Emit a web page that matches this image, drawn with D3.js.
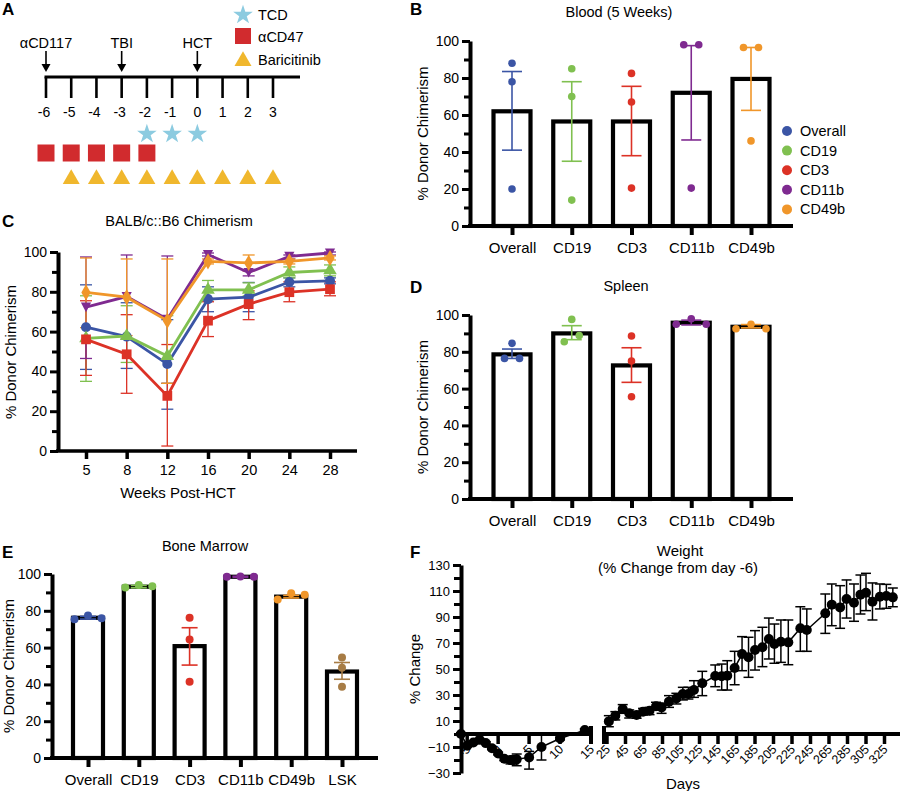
<!DOCTYPE html>
<html><head><meta charset="utf-8">
<script src="https://cdn.jsdelivr.net/npm/d3@7"></script>
<style>
body{margin:0;background:#fff}
svg{display:block}
text{font-family:"Liberation Sans",Arial,Helvetica,sans-serif;fill:#000}
</style>
</head><body>
<svg id="c" width="900" height="791"></svg>
<script>
// ---------------- DATA ----------------
// Panel A (timeline)
const timelineDays = [-6,-5,-4,-3,-2,-1,0,1,2,3];
const timelineEvents = ["αCD117","TBI","HCT"];
const timelineEventDays = [-6,-3,0];
const tcdDays = [-2,-1,0];
const acd47Days = [-6,-5,-4,-3,-2];
const baricitinibDays = [-5,-4,-3,-2,-1,0,1,2,3];
const timelineLegend = ["TCD","αCD47","Baricitinib"];

// shared categories
const populations = ["Overall","CD19","CD3","CD11b","CD49b"];
const popColors = ["#3b55a5","#80c050","#dc3226","#7f2a90","#f0962a"];

// Panel B (Blood, 5 weeks)
const bloodMean = [62, 56.5, 56.5, 72, 79.5];
const bloodLow  = [41, 35, 38, 46.5, 62.5];
const bloodHigh = [83.5, 78, 75.5, 97.5, 96.5];
const bloodPoints = [[88,78,20],[85,70,14],[82.5,67,20.5],[98,98,20.5],[96.5,96.5,46]];

// Panel D (Spleen)
const spleenMean = [78.6, 90, 72.6, 95.8, 93.6];
const spleenLow  = [76.4, 86.6, 63.4, 94.6, 93];
const spleenHigh = [81.5, 94.2, 82.2, 97.2, 94.8];
const spleenPoints = [[84.6,76.4,76.4],[85.5,97.6,88.8],[88.6,75,55.6],[95,98,95],[92.5,95,92.5]];

// Panel E (Bone marrow)
const marrowCats = ["Overall","CD19","CD3","CD11b","CD49b","LSK"];
const marrowColors = ["#3b55a5","#80c050","#dc3226","#7f2a90","#f0962a","#a77c45"];
const marrowMean = [76.2, 93.1, 60.8, 98.5, 87.7, 47];
const marrowLow  = [75.5, 92.5, 50.5, 98.2, 87, 42.8];
const marrowHigh = [77, 93.8, 70.8, 98.8, 88.4, 51.9];
const marrowPoints = [[75.4,77.5,75.9],[92.6,94,93.3],[76.2,64.4,41.4],[98.5,98.6,98.5],[86.2,89.5,88.7],[54.6,49,38.7]];

// Panel C (BALB/c::B6 chimerism over time)
const weeks = ["5","8","12","16","20","24","28"];
const overallMean = [62.2,57.5,43.7,76.3,77.3,84.9,85.5];
const overallLow  = [41,41.5,21,70,70,82.5,84];
const overallHigh = [83.5,74.5,66,82.5,84.7,87,87];
const cd19Mean = [56.6,57.8,47.7,81,81,89.7,90.8];
const cd19Low  = [35,44.5,34,76,78,87,88];
const cd19High = [78,73,68,85.7,84.5,92.5,93.5];
const cd3Mean = [56.1,48.6,27.7,65.5,73.8,79.8,81.3];
const cd3Low  = [38,29,2.5,57.5,66,75,78];
const cd3High = [75.5,68.5,53.5,75,80.5,85,85];
const cd11bMean = [72.3,77.6,66.2,98.7,89.7,97.8,99.5];
const cd11bLow  = [46.5,56.5,34,98,88,96.5,98.5];
const cd11bHigh = [97.5,98.5,98,99.5,90.5,98.5,100];
const cd49bMean = [79.7,77.3,65.5,95.3,94.5,95.3,97];
const cd49bLow  = [62,58,34,94,90.5,94,96];
const cd49bHigh = [97,96.5,96.5,96.5,98.5,96.5,98];

// Panel F (Weight, % change from day -6)
const earlyDays  = [-6,-5,-4,-3,-2,-1,0,1,2,2.5,3,5,7,10,14];
const earlyMean  = [0,-9,-6.5,-4.5,-7,-11,-15,-19,-20,-20,-19.5,-18,-10,-3.5,3];
const earlyLow   = [-1,-10,-7.5,-5.5,-8,-12,-16,-20.5,-23,-23,-24.4,-27,-20,-4.5,2];
const earlyHigh  = [1,-8,-5.5,-3.5,-6,-10,-14,-17.5,-17.5,-17,-15.4,-13.4,0,-2.5,4];
const lateDays = [27,34,42,49,57,64,71,78,84,92,100,107,113,119,128,142,149,155,163,171,178,185,193,200,206,213,221,234,241,261,268,277,284,292,299,305,312,320,327,334];
const lateMean = [9.7,14.1,19.2,15.9,14.6,17.2,17.9,21.3,20.5,24.9,27.4,30.8,30.8,33.8,39,44.6,44.4,44.9,50.8,61.5,59,64.6,66.7,73.1,69.2,71,70.5,81.3,80,92.8,99.5,97.4,103.8,101,107.2,108.7,101.8,105.6,106.2,105.1];
const lateLow  = [5.6,10.8,15.9,12.3,12.1,14.6,14.9,18.5,15.9,20.5,23.1,26.2,26.9,28.2,29.5,36.4,33.8,33.8,37.9,48.7,43.6,49.2,51.8,57.7,54.4,55.1,53.3,63.6,63.6,77.4,83.3,81.3,89.2,86.7,92.3,94.9,87.7,96.2,96.7,97.9];
const lateHigh = [14.1,17.2,22.6,18.5,16.7,19.7,20.5,24.4,23.6,29.5,31.3,35.9,35.9,41,48.2,53.1,53.8,56.4,63.6,74.9,74.4,79.5,82.1,89.2,84.6,87.7,87.7,97.9,96.2,107.7,115.4,114.1,118.5,115.4,122.3,123.6,116.2,115.4,115.1,112.3];
const earlyTicks = [-5,0,5,10,15];
const lateTicks = [25,45,65,85,105,125,145,165,185,205,225,245,265,285,305,325];
const weightMajor = [-30,-10,10,30,50,70,90,110,130];
const weightMinor = [-20,0,20,40,60,80,100,120];
const chimMajor = [0,20,40,60,80,100];
const chimMinor = [10,30,50,70,90];

// ---------------- DRAWING ----------------
const FONT = '"Liberation Sans", Arial, Helvetica, sans-serif';
const svg = d3.select("#c");

function txt(x, y, s, size, opts={}) {
  const t = svg.append("text").attr("x", x).attr("y", y).text(s)
    .attr("font-size", size).attr("font-family", FONT)
    .attr("text-anchor", opts.anchor || "middle");
  if (opts.bold) t.attr("font-weight", "bold");
  if (opts.rotate) t.attr("transform", `rotate(${opts.rotate},${x},${y})`);
  return t;
}

function yAxis(g, y, x, majors, minors, fs, majLen=8, minLen=6) {
  const a = g.append("g").attr("transform", `translate(${x},0)`)
    .call(d3.axisLeft(y).tickValues(majors).tickSize(majLen).tickSizeOuter(0).tickPadding(3));
  a.select(".domain").attr("stroke", "#000").attr("stroke-width", 4);
  a.selectAll(".tick line").attr("stroke", "#000").attr("stroke-width", 3);
  a.selectAll(".tick text").attr("font-size", fs).attr("font-family", FONT).attr("fill", "#000");
  const m = g.append("g").attr("transform", `translate(${x},0)`)
    .call(d3.axisLeft(y).tickValues(minors).tickSize(minLen).tickFormat(""));
  m.select(".domain").remove();
  m.selectAll(".tick line").attr("stroke", "#000").attr("stroke-width", 3);
}

function dotOffsets(vals, y, step) {
  // group points that would overlap, spread them horizontally
  const idx = vals.map((v, i) => i).sort((a, b) => y(vals[a]) - y(vals[b]));
  const groups = [];
  idx.forEach(i => {
    const last = groups[groups.length - 1];
    if (last && Math.abs(y(vals[i]) - y(vals[last[last.length - 1]])) < 8) last.push(i);
    else groups.push([i]);
  });
  const off = vals.map(() => 0);
  groups.forEach(gr => {
    gr.sort((a, b) => a - b);
    const spread = Math.abs(y(vals[gr[0]]) - y(vals[gr[gr.length - 1]]));
    const st = (gr.length > 2 && spread > 5) ? step / 2 : step;
    gr.forEach((i, k) => off[i] = (k - (gr.length - 1) / 2) * st);
  });
  return off;
}

function barPanel(o) {
  const g = svg.append("g");
  const y = d3.scaleLinear().domain([0, 100]).range([o.y0, o.y100]);
  const x = d3.scalePoint().domain(o.cats).range([o.xFirst, o.xLast]);
  // bars
  g.selectAll("rect.bar").data(o.cats).join("rect")
    .attr("x", c => x(c) - o.bw / 2).attr("width", o.bw)
    .attr("y", (c, i) => y(o.mean[i])).attr("height", (c, i) => o.y0 - y(o.mean[i]))
    .attr("fill", "#fff").attr("stroke", "#000").attr("stroke-width", 4.2);
  // axes
  yAxis(g, y, o.axisX, chimMajor, chimMinor, 14);
  g.append("line").attr("x1", o.axisX - 2).attr("x2", o.axisEnd).attr("y1", o.y0).attr("y2", o.y0)
    .attr("stroke", "#000").attr("stroke-width", 4);
  const xa = g.append("g").attr("transform", `translate(0,${o.y0})`)
    .call(d3.axisBottom(x).tickSize(9).tickPadding(7));
  xa.select(".domain").remove();
  xa.selectAll(".tick line").attr("stroke", "#000").attr("stroke-width", 4);
  xa.selectAll(".tick text").attr("font-size", 15).attr("font-family", FONT).attr("fill", "#000");
  // error bars
  o.cats.forEach((c, i) => {
    const col = o.colors[i], cx = x(c);
    const eg = g.append("g").attr("stroke", col).attr("stroke-width", 1.6);
    eg.append("line").attr("x1", cx).attr("x2", cx).attr("y1", y(o.low[i])).attr("y2", y(o.high[i]));
    [o.low[i], o.high[i]].forEach(v => eg.append("line")
      .attr("x1", cx - o.cap / 2).attr("x2", cx + o.cap / 2).attr("y1", y(v)).attr("y2", y(v)));
    const off = dotOffsets(o.points[i], y, o.step);
    g.selectAll(null).data(o.points[i]).join("circle")
      .attr("cx", (v, k) => cx + off[k]).attr("cy", v => y(v)).attr("r", o.r)
      .attr("fill", col);
  });
  // labels
  txt(o.titleX, o.titleY, o.title, 14.5);
  const yl = (o.y0 + o.y100) / 2;
  txt(o.ylabX, yl, "% Donor Chimerism", 15, { rotate: -90 });
}

// ---- Panel A ----
(function () {
  const x = d3.scaleLinear().domain([-6, 3]).range([46, 273]);
  const axisY = 77;
  svg.append("line").attr("x1", x(-6) - 1.5).attr("x2", 300).attr("y1", axisY).attr("y2", axisY)
    .attr("stroke", "#000").attr("stroke-width", 3);
  timelineDays.forEach(d => {
    svg.append("line").attr("x1", x(d)).attr("x2", x(d)).attr("y1", axisY).attr("y2", 98)
      .attr("stroke", "#000").attr("stroke-width", 2.6);
    txt(x(d) - (d < 0 ? 2 : 0), 117, String(d), 14);
  });
  timelineEvents.forEach((e, i) => {
    const xx = x(timelineEventDays[i]);
    txt(xx, 48, e, 14.5);
    svg.append("line").attr("x1", xx).attr("x2", xx).attr("y1", 51).attr("y2", 66)
      .attr("stroke", "#000").attr("stroke-width", 1.6);
    svg.append("path").attr("d", `M${xx - 4.5},${64} L${xx + 4.5},${64} L${xx},${72} Z`).attr("fill", "#000");
  });
  const star = d3.symbol().type(d3.symbolStar).size(120);
  const tri = d3.symbol().type(d3.symbolTriangle).size(125);
  tcdDays.forEach(d => svg.append("path").attr("d", star()).attr("transform", `translate(${x(d)},134)`).attr("fill", "#8ccbe0"));
  acd47Days.forEach(d => svg.append("rect").attr("x", x(d) - 8.5).attr("y", 144.5).attr("width", 17).attr("height", 17).attr("fill", "#d12b2e"));
  baricitinibDays.forEach(d => svg.append("path").attr("d", tri()).attr("transform", `translate(${x(d)},179)`).attr("fill", "#f0b72d"));
  // legend
  svg.append("path").attr("d", star()).attr("transform", "translate(243,15)").attr("fill", "#8ccbe0");
  svg.append("rect").attr("x", 235).attr("y", 28).attr("width", 16).attr("height", 16).attr("fill", "#d12b2e");
  svg.append("path").attr("d", tri()).attr("transform", "translate(243,61)").attr("fill", "#f0b72d");
  txt(258, 20, timelineLegend[0], 14.5, { anchor: "start" });
  txt(258, 42, timelineLegend[1], 14.5, { anchor: "start" });
  txt(258, 65, timelineLegend[2], 14.5, { anchor: "start" });
  txt(2, 15, "A", 17, { anchor: "start", bold: true });
})();

// ---- Panel B ----
barPanel({ cats: populations, colors: popColors, mean: bloodMean, low: bloodLow, high: bloodHigh, points: bloodPoints,
  y0: 226, y100: 41, axisX: 470, axisEnd: 793, xFirst: 512, xLast: 751, bw: 37, cap: 20, r: 3.8, step: 15,
  title: "Blood (5 Weeks)", titleX: 619, titleY: 17, ylabX: 428 });
txt(410, 15, "B", 17, { anchor: "start", bold: true });
populations.forEach((p, i) => {
  svg.append("circle").attr("cx", 787).attr("cy", 131 + i * 19.6).attr("r", 5).attr("fill", popColors[i]);
  txt(800, 136 + i * 19.6, p, 14.5, { anchor: "start" });
});

// ---- Panel D ----
barPanel({ cats: populations, colors: popColors, mean: spleenMean, low: spleenLow, high: spleenHigh, points: spleenPoints,
  y0: 499, y100: 315, axisX: 470, axisEnd: 793, xFirst: 512, xLast: 751, bw: 37, cap: 20, r: 3.8, step: 15,
  title: "Spleen", titleX: 626, titleY: 291, ylabX: 428 });
txt(410, 293, "D", 17, { anchor: "start", bold: true });

// ---- Panel E ----
barPanel({ cats: marrowCats, colors: marrowColors, mean: marrowMean, low: marrowLow, high: marrowHigh, points: marrowPoints,
  y0: 758, y100: 574, axisX: 52, axisEnd: 378, xFirst: 88, xLast: 342, bw: 30, cap: 16, r: 4, step: 13.5,
  title: "Bone Marrow", titleX: 205, titleY: 551, ylabX: 14 });
txt(2, 558, "E", 17, { anchor: "start", bold: true });

// ---- Panel C ----
(function () {
  const g = svg.append("g");
  const y = d3.scaleLinear().domain([0, 100]).range([451, 252]);
  const x = d3.scalePoint().domain(weeks).range([86, 330]);
  yAxis(g, y, 58, chimMajor, chimMinor, 14);
  g.append("line").attr("x1", 56).attr("x2", 357).attr("y1", 451).attr("y2", 451).attr("stroke", "#000").attr("stroke-width", 3.5);
  const xa = g.append("g").attr("transform", "translate(0,451)").call(d3.axisBottom(x).tickSize(8).tickPadding(6));
  xa.select(".domain").remove();
  xa.selectAll(".tick line").attr("stroke", "#000").attr("stroke-width", 3.5);
  xa.selectAll(".tick text").attr("font-size", 14.5).attr("font-family", FONT).attr("fill", "#000");
  const triDown = { draw(ctx, size) { const h = Math.sqrt(size * 1.3); ctx.moveTo(-h / 2, -h * 0.45); ctx.lineTo(h / 2, -h * 0.45); ctx.lineTo(0, h * 0.5); ctx.closePath(); } };
  const series = [
    { m: overallMean, lo: overallLow, hi: overallHigh, c: popColors[0], sym: d3.symbolCircle, s: 80 },
    { m: cd19Mean, lo: cd19Low, hi: cd19High, c: popColors[1], sym: d3.symbolTriangle, s: 80 },
    { m: cd3Mean, lo: cd3Low, hi: cd3High, c: popColors[2], sym: d3.symbolSquare, s: 95 },
    { m: cd11bMean, lo: cd11bLow, hi: cd11bHigh, c: popColors[3], sym: triDown, s: 80 },
    { m: cd49bMean, lo: cd49bLow, hi: cd49bHigh, c: popColors[4], sym: d3.symbolDiamond, s: 75 }
  ];
  series.forEach(s => {
    const eg = g.append("g").attr("stroke", s.c).attr("stroke-width", 1.3);
    weeks.forEach((w, i) => {
      const cx = x(w);
      eg.append("line").attr("x1", cx).attr("x2", cx).attr("y1", y(s.lo[i])).attr("y2", y(s.hi[i]));
      [s.lo[i], s.hi[i]].forEach(v => eg.append("line").attr("x1", cx - 6).attr("x2", cx + 6).attr("y1", y(v)).attr("y2", y(v)));
    });
  });
  series.forEach(s => {
    g.append("path").datum(s.m).attr("d", d3.line().x((v, i) => x(weeks[i])).y(v => y(v)))
      .attr("fill", "none").attr("stroke", s.c).attr("stroke-width", 2.8);
    const sym = d3.symbol().type(s.sym).size(s.s);
    s.m.forEach((v, i) => g.append("path").attr("d", sym()).attr("transform", `translate(${x(weeks[i])},${y(v)})`).attr("fill", s.c));
  });
  txt(179, 226, "BALB/c::B6 Chimerism", 14.5);
  txt(178, 498, "Weeks Post-HCT", 15);
  txt(16, 352, "% Donor Chimerism", 15, { rotate: -90 });
  txt(2, 227, "C", 17, { anchor: "start", bold: true });
})();

// ---- Panel F ----
(function () {
  const g = svg.append("g");
  const y = d3.scaleLinear().domain([-30, 130]).range([773, 565]);
  const xL = d3.scaleLinear().domain([-6, 15]).range([461, 591]);
  const xR = d3.scaleLinear().domain([25, 325]).range([607, 884.5]);
  yAxis(g, y, 461, weightMajor, weightMinor, 13, 8, 7);
  const y0 = y(0);
  g.append("line").attr("x1", 459).attr("x2", xL(15)).attr("y1", y0).attr("y2", y0).attr("stroke", "#000").attr("stroke-width", 4);
  g.append("line").attr("x1", 604).attr("x2", 900).attr("y1", y0).attr("y2", y0).attr("stroke", "#000").attr("stroke-width", 4);
  // break marks
  [xL(15), 604].forEach(bx => g.append("line").attr("x1", bx).attr("x2", bx).attr("y1", y0 - 8).attr("y2", y0 + 10).attr("stroke", "#000").attr("stroke-width", 4));
  function xTicks(scale, vals) {
    vals.forEach(v => {
      const tx = scale(v);
      g.append("line").attr("x1", tx).attr("x2", tx).attr("y1", y0).attr("y2", y0 + 10).attr("stroke", "#000").attr("stroke-width", 3.5);
      g.append("text").attr("x", 0).attr("y", 0).text(String(v)).attr("font-size", 12.5).attr("font-family", FONT)
        .attr("text-anchor", "end").attr("transform", `translate(${tx + 4},${y0 + 16}) rotate(-45)`);
    });
  }
  xTicks(xL, earlyTicks);
  xTicks(xR, lateTicks);
  function series(scale, days, m, lo, hi) {
    const eg = g.append("g").attr("stroke", "#000").attr("stroke-width", 1.5);
    days.forEach((d, i) => {
      const cx = scale(d);
      eg.append("line").attr("x1", cx).attr("x2", cx).attr("y1", y(lo[i])).attr("y2", y(hi[i]));
      [lo[i], hi[i]].forEach(v => eg.append("line").attr("x1", cx - 5).attr("x2", cx + 5).attr("y1", y(v)).attr("y2", y(v)));
    });
    g.append("path").datum(m).attr("d", d3.line().x((v, i) => scale(days[i])).y(v => y(v)))
      .attr("fill", "none").attr("stroke", "#000").attr("stroke-width", 1.5);
    g.selectAll(null).data(m).join("circle").attr("cx", (v, i) => scale(days[i])).attr("cy", v => y(v)).attr("r", 5).attr("fill", "#000");
  }
  series(xL, earlyDays, earlyMean, earlyLow, earlyHigh);
  series(xR, lateDays, lateMean, lateLow, lateHigh);
  txt(680, 556, "Weight", 15);
  txt(678, 573, "(% Change from day -6)", 15);
  txt(683, 789, "Days", 15);
  txt(420, 669, "% Change", 15, { rotate: -90 });
  txt(410, 558, "F", 17, { anchor: "start", bold: true });
})();
</script>
</body></html>
